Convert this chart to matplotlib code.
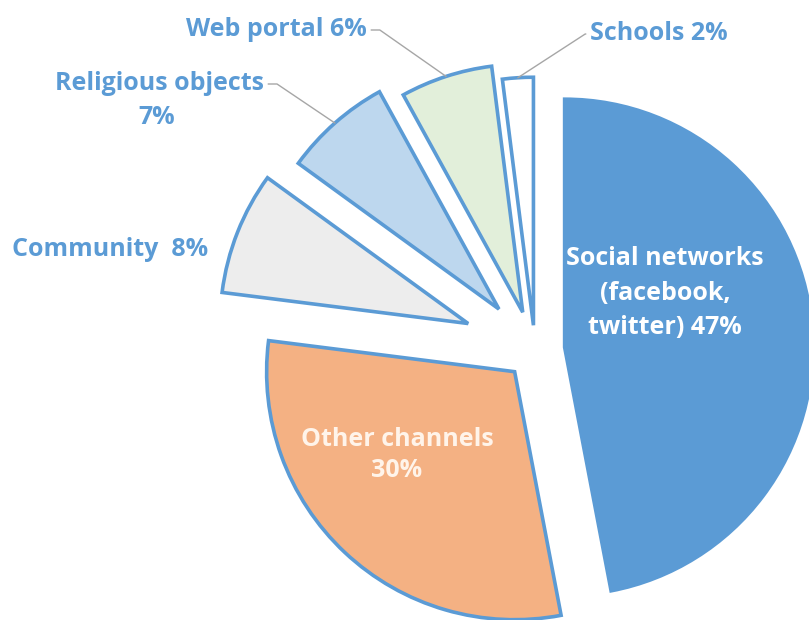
import numpy as np
import matplotlib
matplotlib.use("Agg")
import matplotlib.pyplot as plt

# data
channels = ["Social networks\n(facebook,\ntwitter)", "Other channels", "Community",
            "Religious objects", "Web portal", "Schools"]
shares = [47, 30, 8, 7, 6, 2]
colors = ["#5B9BD5", "#F4B183", "#EDEDED", "#BDD7EE", "#E2EFDA", "#FFFFFF"]
explode = [0.12, 0.12, 0.29, 0.22, 0.16, 0.10]

plt.rcParams["font.family"] = ["Open Sans", "DejaVu Sans"]
blue = "#5B9BD5"
fs = 18

W, H = 809, 620
fig = plt.figure(figsize=(W / 100, H / 100), dpi=100)
ax = fig.add_axes([0, 0, 1, 1])

wedges, _ = ax.pie(shares, explode=explode, colors=colors, startangle=90,
                   counterclock=False, radius=1,
                   wedgeprops=dict(edgecolor=blue, linewidth=2.6, joinstyle="miter"))

# pie is cropped at bottom/right like the original
scale, cx, cy = 248, 535, 350
ax.set_xlim(-cx / scale, (W - cx) / scale)
ax.set_ylim(-(H - cy) / scale, cy / scale)
ax.set_aspect("equal")
ax.axis("off")


def px(x, y):
    return (x / W, 1 - y / H)


def rim(w):
    a = np.deg2rad((w.theta1 + w.theta2) / 2)
    return (w.center[0] + w.r * np.cos(a), w.center[1] + w.r * np.sin(a))


lbl = dict(color=blue, fontsize=fs, fontweight="bold", textcoords="axes fraction",
           xycoords="data")
line = dict(arrowstyle="-", color="#A6A6A6", lw=1, shrinkA=1, shrinkB=0)

ax.annotate(f"{channels[4]} {shares[4]}%", xy=rim(wedges[4]), xytext=px(367, 30),
            ha="right", va="center",
            arrowprops=dict(line, relpos=(1, 0.5),
                            connectionstyle="angle,angleA=0,angleB=145,rad=0"), **lbl)
ax.annotate(f"{channels[5]} {shares[5]}%", xy=rim(wedges[5]), xytext=px(590, 34),
            ha="left", va="center",
            arrowprops=dict(line, relpos=(0, 0.5),
                            connectionstyle="angle,angleA=180,angleB=33,rad=0"), **lbl)
ax.annotate(channels[3], xy=rim(wedges[3]), xytext=px(264, 84),
            ha="right", va="center",
            arrowprops=dict(line, relpos=(1, 0.5),
                            connectionstyle="angle,angleA=0,angleB=146,rad=0"), **lbl)
ax.text(*px(157, 117), f"{shares[3]}%", transform=ax.transAxes, ha="center", va="center",
        color=blue, fontsize=fs, fontweight="bold")
ax.text(*px(12, 249), f"{channels[2]}  {shares[2]}%", transform=ax.transAxes,
        ha="left", va="center", color=blue, fontsize=fs, fontweight="bold")

ax.text(*px(665, 293), f"{channels[0]} {shares[0]}%", transform=ax.transAxes,
        ha="center", va="center", color="white", fontsize=fs, fontweight="bold",
        linespacing=1.5)
ax.text(*px(397, 455), f"{channels[1]}\n{shares[1]}%", transform=ax.transAxes,
        ha="center", va="center", color="#FFF4EA", fontsize=fs, fontweight="bold",
        linespacing=1.3)

fig.savefig("out.png", dpi=100)
